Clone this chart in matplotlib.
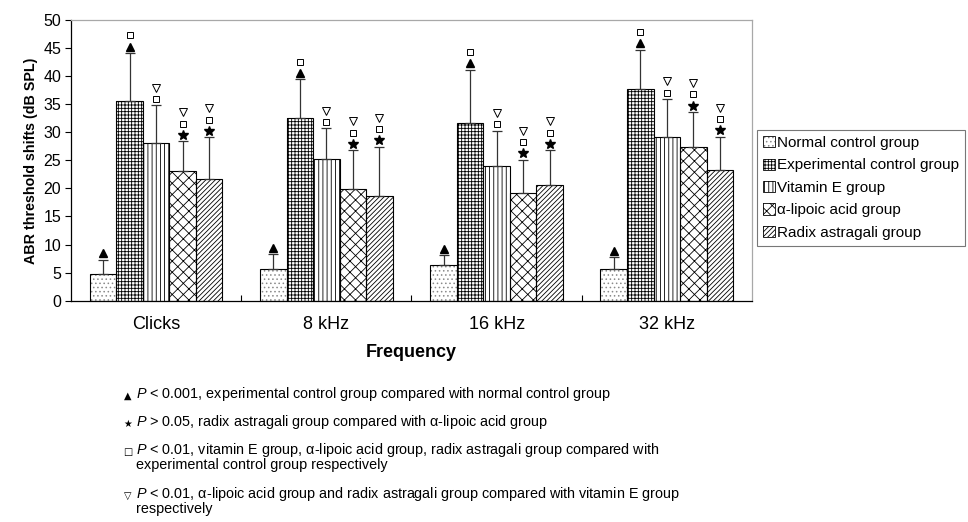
import matplotlib
matplotlib.use("Agg")
import matplotlib.pyplot as plt
from matplotlib.patches import Patch
import numpy as np

plt.rcParams['font.family'] = ['Liberation Sans', 'DejaVu Sans']
plt.rcParams['mathtext.fontset'] = 'custom'
plt.rcParams['mathtext.rm'] = 'Liberation Sans'
plt.rcParams['mathtext.it'] = 'Liberation Sans:italic'
plt.rcParams['hatch.linewidth'] = 0.6

# ---- data -------------------------------------------------------------
categories = ["Clicks", "8 kHz", "16 kHz", "32 kHz"]
groups = ["Normal control group", "Experimental control group", "Vitamin E group",
          "\u03b1-lipoic acid group", "Radix astragali group"]

normal_mean = [4.8, 5.6, 6.4, 5.6]
experimental_mean = [35.6, 32.5, 31.6, 37.7]
vitamin_e_mean = [28.0, 25.2, 24.0, 29.2]
lipoic_mean = [23.1, 19.9, 19.2, 27.4]
radix_mean = [21.6, 18.6, 20.6, 23.3]

normal_sd = [2.5, 2.7, 1.7, 2.1]
experimental_sd = [8.5, 6.9, 9.5, 7.0]
vitamin_e_sd = [6.8, 5.5, 6.3, 6.7]
lipoic_sd = [5.3, 6.9, 5.9, 6.2]
radix_sd = [7.5, 8.8, 6.2, 5.9]

# significance symbols stacked above each group's error bar
sig_marks = [["tri"], ["tri", "sq"], ["sq", "tdn"], ["star", "sq", "tdn"], ["star", "sq", "tdn"]]

means = [normal_mean, experimental_mean, vitamin_e_mean, lipoic_mean, radix_mean]
sds = [normal_sd, experimental_sd, vitamin_e_sd, lipoic_sd, radix_sd]
hatches = ["....", "+++++", "||||", "xxx", "///////"]
hatch_colors = ["#8a8a8a", "black", "black", "black", "black"]

marker_style = {
    "tri": dict(marker="^", markerfacecolor="black", markeredgecolor="black", markersize=6),
    "star": dict(marker="*", markerfacecolor="black", markeredgecolor="black", markersize=7.5),
    "sq": dict(marker="s", markerfacecolor="white", markeredgecolor="black", markersize=5, markeredgewidth=0.7),
    "tdn": dict(marker="v", markerfacecolor="white", markeredgecolor="black", markersize=5.5, markeredgewidth=0.7),
}

# ---- figure -----------------------------------------------------------
fig = plt.figure(figsize=(9.68, 5.22), dpi=100)
ax = fig.add_axes([0.0733, 0.424, 0.7036, 0.5377])

x = np.arange(len(categories))
width = 0.156
for i, (m, s, h) in enumerate(zip(means, sds, hatches)):
    pos = x + (i - 2) * width
    # hatched fill (hatch takes the edge colour), then a black outline on top
    ax.bar(pos, m, width, color="white", edgecolor=hatch_colors[i], linewidth=0,
           hatch=h, zorder=2)
    ax.bar(pos, m, width, fill=False, edgecolor="black", linewidth=0.8,
           label=groups[i], zorder=2.5)
    ax.errorbar(pos, m, yerr=[np.zeros(len(m)), s], fmt="none", ecolor="#333333",
                elinewidth=0.9, capsize=3.5, capthick=0.9, zorder=3)
    for xp, mv, sv in zip(pos, m, s):
        top = mv + sv
        for k, mk in enumerate(sig_marks[i]):
            ax.plot(xp, top + 1.15 + 2.0 * k, linestyle="none", zorder=4,
                    **marker_style[mk])

ax.set_xlim(-0.5, 3.5)
ax.set_ylim(0, 50)
ax.set_yticks(np.arange(0, 51, 5))
ax.set_xticks(x)
ax.set_xticklabels(categories, fontsize=13)
ax.set_xticks([0.5, 1.5, 2.5], minor=True)
ax.tick_params(axis="x", which="major", length=0, pad=11)
ax.tick_params(axis="x", which="minor", direction="in", length=4, width=0.8)
ax.tick_params(axis="y", direction="out", length=4, width=0.8, labelsize=11.5, pad=3)

for side in ("left", "bottom"):
    ax.spines[side].set_color("black")
    ax.spines[side].set_linewidth(0.9)
for side in ("top", "right"):
    ax.spines[side].set_color("#a8a8a8")
    ax.spines[side].set_linewidth(0.9)

ax.set_xlabel("Frequency", fontsize=13, fontweight="bold", labelpad=8)
ax.set_ylabel("ABR threshold shifts (dB SPL)", fontsize=10.3, fontweight="bold", labelpad=4)

handles = []
for h, hc in zip(hatches, hatch_colors):
    handles.append((Patch(facecolor="white", edgecolor=hc, hatch=h, linewidth=0),
                    Patch(fill=False, edgecolor="black", linewidth=0.6)))
leg = fig.legend(handles, groups, loc="upper left", bbox_to_anchor=(0.782, 0.751),
                 fontsize=11, frameon=True, fancybox=False, edgecolor="#555555",
                 handlelength=0.75, handleheight=0.75, handletextpad=0.15,
                 labelspacing=0.55, borderpad=0.4, borderaxespad=0.0)
leg.get_frame().set_linewidth(0.8)

# ---- footnotes ---------------------------------------------------------
notes = [
    ("\u25b2", 394, ["$P$ < 0.001, experimental control group compared with normal control group"]),
    ("\u2605", 422, ["$P$ > 0.05, radix astragali group compared with \u03b1-lipoic acid group"]),
    ("\u25a1", 450, ["$P$ < 0.01, vitamin E group, \u03b1-lipoic acid group, radix astragali group compared with",
                     "experimental control group respectively"]),
    ("\u25bd", 494, ["$P$ < 0.01, \u03b1-lipoic acid group and radix astragali group compared with vitamin E group",
                     "respectively"]),
]
H = 522.0
for sym, ypix, lines in notes:
    fig.text(128 / 968, 1 - (ypix + 2) / H, sym, fontsize=7, ha="center", va="center",
             family=["DejaVu Sans"])
    for j, line in enumerate(lines):
        fig.text(136 / 968, 1 - (ypix + 15.5 * j) / H, line, fontsize=10.4,
                 ha="left", va="center")

fig.savefig("out.png", dpi=100)
